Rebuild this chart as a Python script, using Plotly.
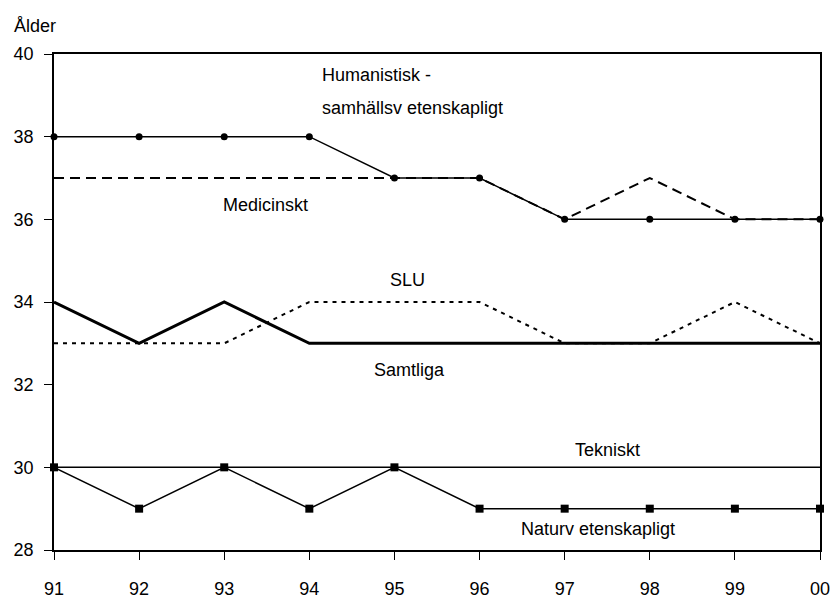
import plotly.graph_objects as go

years = ["91", "92", "93", "94", "95", "96", "97", "98", "99", "00"]
humanistisk = [38, 38, 38, 38, 37, 37, 36, 36, 36, 36]
medicinskt = [37, 37, 37, 37, 37, 37, 36, 37, 36, 36]
slu = [33, 33, 33, 34, 34, 34, 33, 33, 34, 33]
samtliga = [34, 33, 34, 33, 33, 33, 33, 33, 33, 33]
tekniskt = [30, 30, 30, 30, 30, 30, 30, 30, 30, 30]
naturvet = [30, 29, 30, 29, 30, 29, 29, 29, 29, 29]

xs = list(range(len(years)))
FONT = "Liberation Sans, Arial, sans-serif"
FS = 18

fig = go.Figure()
fig.add_trace(go.Scatter(x=xs, y=tekniskt, mode="lines", line=dict(color="black", width=1.5), cliponaxis=False))
fig.add_trace(go.Scatter(x=xs, y=naturvet, mode="lines+markers",
                         line=dict(color="black", width=1.5),
                         marker=dict(symbol="square", size=8, color="black"), cliponaxis=False))
fig.add_trace(go.Scatter(x=xs, y=slu, mode="lines", line=dict(color="black", width=2, dash="4px,5px"), cliponaxis=False))
fig.add_trace(go.Scatter(x=xs, y=samtliga, mode="lines", line=dict(color="black", width=3), cliponaxis=False))
fig.add_trace(go.Scatter(x=xs, y=medicinskt, mode="lines", line=dict(color="black", width=2, dash="10px,6px"), cliponaxis=False))
fig.add_trace(go.Scatter(x=xs, y=humanistisk, mode="lines+markers",
                         line=dict(color="black", width=1.5),
                         marker=dict(symbol="circle", size=7, color="black"), cliponaxis=False))

def lab(text, x, y, anchor="center"):
    fig.add_annotation(text=text, x=x, y=y, xref="x", yref="y", showarrow=False,
                       xanchor=anchor, yanchor="middle",
                       font=dict(family=FONT, size=FS, color="black"))

lab("Humanistisk -", 3.13, 39.49, "left")
lab("samhällsv etenskapligt", 3.13, 38.69, "left")
lab("Medicinskt", 2.48, 36.35)
lab("SLU", 4.15, 34.53)
lab("Samtliga", 4.18, 32.35)
lab("Tekniskt", 6.5, 30.42)
lab("Naturv etenskapligt", 6.39, 28.51)

fig.add_annotation(text="Ålder", xref="paper", yref="paper", x=-0.0548, y=1.056,
                   xanchor="left", yanchor="middle", showarrow=False,
                   font=dict(family=FONT, size=FS, color="black"))

fig.update_layout(
    width=830, height=599,
    margin=dict(l=54, r=10, t=54, b=49, autoexpand=False),
    paper_bgcolor="white", plot_bgcolor="white",
    showlegend=False,
    font=dict(family=FONT, size=FS, color="black"),
)
fig.update_xaxes(range=[0, 9], tickvals=xs, ticktext=years, showgrid=False, zeroline=False,
                 showline=True, linecolor="black", linewidth=1.5, mirror=True, automargin=False,
                 ticks="outside", ticklen=8, tickcolor="black", ticklabelstandoff=14,
                 ticklabeloverflow="allow")
fig.update_yaxes(range=[28, 40], tickvals=[28, 30, 32, 34, 36, 38, 40], showgrid=False, zeroline=False,
                 showline=True, linecolor="black", linewidth=1.5, mirror=True, automargin=False,
                 ticks="outside", ticklen=8, tickcolor="black", ticklabelstandoff=7,
                 ticklabeloverflow="allow")

fig.write_html("out.html", config={"displayModeBar": False},
               post_script="document.body.style.margin='0';document.body.style.overflow='hidden';")
